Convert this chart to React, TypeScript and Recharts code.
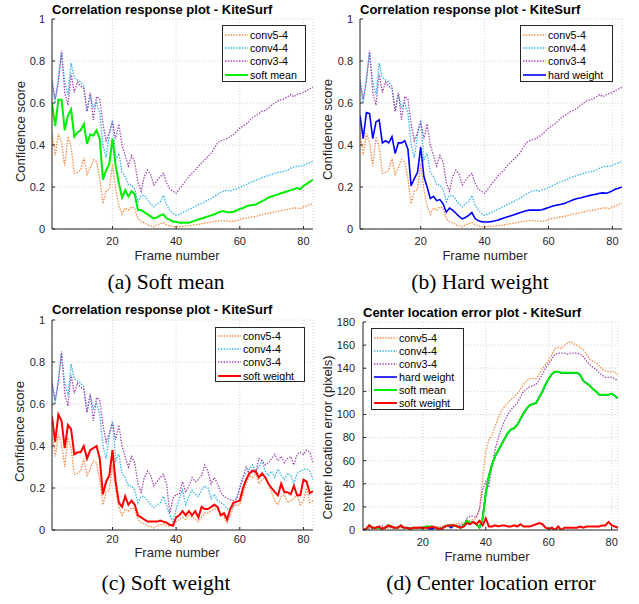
import { LineChart, Line, XAxis, YAxis, CartesianGrid, Legend } from 'recharts';

// frame indices (x categories)
const frames = Array.from({ length: 83 }, (_, i) => i + 1);
const framesD = frames.slice(0, 82);

const xTicks = [20, 40, 60, 80];
const scoreTicks = [0, 0.2, 0.4, 0.6, 0.8, 1];
const errorTicks = [0, 20, 40, 60, 80, 100, 120, 140, 160, 180];

// (a)/(b) confidence scores
const conv54 = [0.46, 0.35, 0.455, 0.41, 0.30, 0.44, 0.39, 0.265, 0.27, 0.28, 0.34, 0.26, 0.29, 0.33, 0.32, 0.24, 0.12, 0.18, 0.19, 0.31, 0.19, 0.11, 0.07, 0.10, 0.09, 0.105, 0.10, 0.05, 0.035, 0.03, 0.02, 0.015, 0.01, 0.02, 0.025, 0.03, 0.02, 0.015, 0.012, 0.01, 0.012, 0.013, 0.014, 0.015, 0.017, 0.02, 0.022, 0.025, 0.028, 0.03, 0.033, 0.036, 0.038, 0.04, 0.04, 0.038, 0.036, 0.037, 0.04, 0.045, 0.05, 0.052, 0.055, 0.058, 0.06, 0.064, 0.068, 0.072, 0.075, 0.078, 0.082, 0.085, 0.088, 0.09, 0.093, 0.097, 0.1, 0.1, 0.097, 0.105, 0.11, 0.117, 0.122];
const conv44 = [0.69, 0.60, 0.72, 0.84, 0.70, 0.64, 0.79, 0.72, 0.71, 0.70, 0.68, 0.56, 0.64, 0.58, 0.60, 0.55, 0.40, 0.34, 0.45, 0.52, 0.33, 0.36, 0.27, 0.25, 0.21, 0.21, 0.19, 0.13, 0.16, 0.16, 0.14, 0.12, 0.105, 0.12, 0.13, 0.16, 0.115, 0.09, 0.075, 0.065, 0.07, 0.078, 0.085, 0.093, 0.10, 0.108, 0.115, 0.122, 0.13, 0.138, 0.145, 0.155, 0.165, 0.175, 0.18, 0.185, 0.18, 0.187, 0.19, 0.198, 0.205, 0.212, 0.22, 0.225, 0.232, 0.238, 0.245, 0.25, 0.255, 0.26, 0.265, 0.27, 0.272, 0.275, 0.28, 0.29, 0.295, 0.30, 0.298, 0.303, 0.31, 0.316, 0.322];
const conv34 = [0.71, 0.62, 0.70, 0.85, 0.65, 0.59, 0.74, 0.65, 0.70, 0.68, 0.67, 0.56, 0.65, 0.52, 0.63, 0.62, 0.50, 0.42, 0.46, 0.51, 0.43, 0.50, 0.40, 0.35, 0.30, 0.35, 0.32, 0.22, 0.18, 0.25, 0.28, 0.26, 0.21, 0.23, 0.25, 0.265, 0.22, 0.19, 0.18, 0.17, 0.19, 0.21, 0.23, 0.25, 0.265, 0.28, 0.30, 0.315, 0.33, 0.345, 0.36, 0.385, 0.41, 0.42, 0.425, 0.43, 0.44, 0.45, 0.465, 0.48, 0.49, 0.50, 0.515, 0.53, 0.54, 0.55, 0.56, 0.565, 0.575, 0.59, 0.60, 0.61, 0.615, 0.62, 0.63, 0.64, 0.63, 0.64, 0.645, 0.65, 0.66, 0.668, 0.675];
const softMean = [0.60, 0.49, 0.615, 0.615, 0.47, 0.54, 0.57, 0.44, 0.46, 0.47, 0.50, 0.405, 0.45, 0.445, 0.47, 0.43, 0.235, 0.28, 0.31, 0.43, 0.30, 0.22, 0.15, 0.185, 0.155, 0.18, 0.165, 0.09, 0.09, 0.08, 0.07, 0.06, 0.05, 0.055, 0.065, 0.07, 0.05, 0.045, 0.035, 0.035, 0.03, 0.03, 0.03, 0.03, 0.035, 0.04, 0.045, 0.05, 0.055, 0.06, 0.065, 0.07, 0.077, 0.083, 0.085, 0.08, 0.08, 0.082, 0.088, 0.095, 0.10, 0.108, 0.112, 0.114, 0.116, 0.125, 0.133, 0.14, 0.15, 0.155, 0.16, 0.165, 0.17, 0.175, 0.18, 0.185, 0.19, 0.195, 0.19, 0.205, 0.215, 0.225, 0.235];
const hardWeight = [0.54, 0.43, 0.555, 0.55, 0.43, 0.51, 0.52, 0.41, 0.42, 0.41, 0.44, 0.36, 0.41, 0.41, 0.42, 0.38, 0.205, 0.24, 0.27, 0.39, 0.25, 0.20, 0.145, 0.155, 0.135, 0.14, 0.12, 0.08, 0.10, 0.09, 0.075, 0.06, 0.048, 0.055, 0.065, 0.078, 0.05, 0.04, 0.035, 0.033, 0.033, 0.035, 0.038, 0.042, 0.047, 0.052, 0.057, 0.062, 0.067, 0.072, 0.077, 0.082, 0.087, 0.09, 0.09, 0.09, 0.09, 0.092, 0.097, 0.102, 0.107, 0.112, 0.115, 0.118, 0.122, 0.128, 0.134, 0.14, 0.145, 0.148, 0.152, 0.156, 0.16, 0.163, 0.166, 0.17, 0.172, 0.17, 0.175, 0.182, 0.19, 0.194, 0.20];

// (c) confidence scores
const conv54C = [0.46, 0.35, 0.455, 0.41, 0.30, 0.44, 0.39, 0.265, 0.27, 0.28, 0.34, 0.26, 0.29, 0.33, 0.32, 0.24, 0.12, 0.18, 0.19, 0.31, 0.19, 0.11, 0.07, 0.10, 0.09, 0.105, 0.10, 0.05, 0.035, 0.03, 0.02, 0.015, 0.01, 0.02, 0.025, 0.03, 0.02, 0.02, 0.025, 0.04, 0.05, 0.06, 0.05, 0.07, 0.06, 0.05, 0.04, 0.06, 0.08, 0.08, 0.09, 0.10, 0.10, 0.08, 0.06, 0.035, 0.07, 0.11, 0.12, 0.12, 0.17, 0.22, 0.26, 0.25, 0.27, 0.22, 0.24, 0.25, 0.22, 0.18, 0.14, 0.12, 0.16, 0.17, 0.13, 0.14, 0.15, 0.17, 0.12, 0.14, 0.20, 0.13, 0.14];
const conv44C = [0.69, 0.60, 0.72, 0.84, 0.70, 0.64, 0.79, 0.72, 0.71, 0.70, 0.68, 0.56, 0.64, 0.58, 0.60, 0.55, 0.40, 0.34, 0.45, 0.52, 0.33, 0.36, 0.27, 0.25, 0.21, 0.21, 0.19, 0.13, 0.16, 0.16, 0.14, 0.12, 0.105, 0.12, 0.13, 0.16, 0.115, 0.07, 0.04, 0.10, 0.15, 0.19, 0.12, 0.16, 0.19, 0.17, 0.16, 0.19, 0.21, 0.20, 0.15, 0.17, 0.14, 0.13, 0.12, 0.10, 0.10, 0.11, 0.15, 0.20, 0.25, 0.27, 0.29, 0.31, 0.28, 0.30, 0.33, 0.28, 0.26, 0.28, 0.25, 0.29, 0.26, 0.24, 0.27, 0.26, 0.22, 0.27, 0.28, 0.29, 0.29, 0.28, 0.24];
const conv34C = [0.71, 0.62, 0.70, 0.85, 0.65, 0.59, 0.74, 0.65, 0.70, 0.68, 0.67, 0.56, 0.65, 0.52, 0.63, 0.62, 0.50, 0.42, 0.46, 0.51, 0.43, 0.50, 0.40, 0.35, 0.30, 0.35, 0.32, 0.22, 0.18, 0.25, 0.28, 0.26, 0.21, 0.23, 0.25, 0.265, 0.22, 0.08, 0.15, 0.17, 0.17, 0.23, 0.18, 0.21, 0.25, 0.23, 0.24, 0.26, 0.31, 0.28, 0.22, 0.25, 0.22, 0.18, 0.16, 0.15, 0.145, 0.14, 0.15, 0.20, 0.25, 0.30, 0.27, 0.29, 0.27, 0.34, 0.33, 0.31, 0.32, 0.34, 0.36, 0.33, 0.35, 0.32, 0.34, 0.35, 0.31, 0.36, 0.37, 0.36, 0.38, 0.37, 0.32];
const softWeight = [0.54, 0.42, 0.55, 0.52, 0.39, 0.50, 0.48, 0.36, 0.37, 0.37, 0.40, 0.34, 0.38, 0.39, 0.40, 0.34, 0.17, 0.23, 0.26, 0.38, 0.23, 0.13, 0.11, 0.16, 0.12, 0.14, 0.12, 0.07, 0.06, 0.05, 0.04, 0.04, 0.04, 0.04, 0.045, 0.04, 0.035, 0.025, 0.02, 0.06, 0.07, 0.09, 0.07, 0.09, 0.07, 0.09, 0.06, 0.11, 0.10, 0.10, 0.11, 0.12, 0.11, 0.07, 0.08, 0.05, 0.10, 0.13, 0.135, 0.14, 0.20, 0.24, 0.27, 0.28, 0.28, 0.25, 0.27, 0.25, 0.22, 0.20, 0.18, 0.165, 0.22, 0.18, 0.18, 0.17, 0.21, 0.165, 0.165, 0.24, 0.23, 0.175, 0.185];

// (d) centre location error, pixels
const errConv54 = [0, 1, 2, 1, 1, 2, 2, 1, 2, 2, 1, 2, 2, 2, 2, 2, 2, 2, 3, 2, 3, 3, 3, 3, 3, 3, 4, 4, 5, 5, 5, 6, 6, 7, 8, 9, 10, 18, 45, 68, 78, 82, 90, 97, 103, 107, 110, 113, 115, 118, 122, 126, 129, 131, 131, 131, 135, 140, 143, 147, 152, 157, 158, 157, 160, 162, 163, 161, 160, 158, 156, 152, 148, 146, 145, 142, 139, 138, 137, 137, 137, 134];
const errConv44 = [0, 1, 4, 2, 2, 2, 1, 2, 4, 3, 2, 2, 4, 2, 2, 1, 2, 2, 2, 2, 3, 3, 3, 2, 1, 1, 3, 4, 4, 4, 3, 2, 4, 8, 6, 7, 5, 2, 10, 32, 47, 57, 64, 69, 74, 79, 84, 87, 88, 91, 96, 101, 105, 108, 109, 110, 115, 120, 126, 131, 135, 137, 137, 136, 136, 136, 136, 136, 136, 134, 129, 127, 125, 122, 120, 117, 117, 117, 117, 118, 116, 114];
const errConv34 = [0, 1, 1, 1, 2, 3, 4, 2, 2, 2, 2, 2, 2, 2, 2, 2, 2, 2, 2, 2, 2, 2, 2, 2, 2, 2, 3, 3, 3, 4, 4, 4, 5, 10, 12, 12, 11, 18, 35, 42, 38, 55, 70, 80, 88, 95, 100, 104, 107, 110, 115, 120, 122, 124, 125, 126, 130, 135, 140, 144, 148, 152, 153, 153, 153, 152, 153, 153, 153, 152, 150, 146, 143, 141, 139, 136, 134, 132, 132, 132, 131, 129];
const errHardWeight = [0, 1, 4, 2, 2, 2, 1, 2, 4, 3, 2, 2, 4, 2, 2, 1, 2, 2, 2, 2, 3, 1, 1, 2, 1, 1, 3, 4, 2, 4, 3, 2, 4, 8, 6, 7, 5, 2, 10, 32, 47, 57, 64, 69, 74, 79, 84, 87, 88, 91, 96, 101, 105, 108, 109, 110, 115, 120, 126, 131, 135, 137, 137, 136, 136, 136, 136, 136, 136, 134, 129, 127, 125, 122, 120, 117, 117, 117, 117, 118, 116, 114];
const errSoftMean = [0, 1, 4, 2, 2, 2, 1, 2, 4, 3, 2, 2, 4, 2, 2, 1, 2, 2, 2, 2, 3, 3, 3, 2, 1, 1, 3, 4, 4, 4, 3, 2, 4, 8, 6, 7, 5, 2, 10, 32, 47, 57, 64, 69, 74, 79, 84, 87, 88, 91, 96, 101, 105, 108, 109, 110, 115, 120, 126, 131, 135, 137, 137, 136, 136, 136, 136, 136, 136, 134, 129, 127, 125, 122, 120, 117, 117, 117, 117, 118, 116, 114];
const errSoftWeight = [0, 1, 4, 2, 2, 3, 1, 2, 4, 3, 2, 2, 4, 2, 2, 1, 2, 2, 2, 2, 2, 2, 3, 2, 1, 1, 3, 4, 4, 4, 3, 2, 3, 6, 5, 7, 5, 8, 4, 10, 3, 3, 4, 3, 4, 4, 3, 3, 4, 3, 5, 3, 3, 3, 4, 5, 6, 5, 2, 1, 2, 0, 3, 0, 2, 2, 2, 2, 2, 3, 2, 3, 3, 3, 3, 3, 4, 4, 7, 4, 3, 2];

const LOOK: Record<string, { name: string; color: string; width: number; dash?: string }> = {
  conv5: { name: 'conv5-4', color: '#F7883A', width: 1.3, dash: '1.4 1.4' },
  conv4: { name: 'conv4-4', color: '#2BB2EE', width: 1.3, dash: '1.4 1.4' },
  conv3: { name: 'conv3-4', color: '#A046B2', width: 1.3, dash: '1.4 1.4' },
  hard: { name: 'hard weight', color: '#0000FF', width: 1.6 },
  softMean: { name: 'soft mean', color: '#00EE00', width: 2 },
  softWeight: { name: 'soft weight', color: '#FF0000', width: 2 },
};

const FONT = '"Liberation Sans", Arial, sans-serif';
const INK = '#262626';
const tickStyle = { fill: INK, fontSize: 11, fontFamily: FONT };

type Box = { l: number; t: number; r: number; b: number };
type PanelDef = {
  x: number; y: number; w: number; h: number; plot: Box;
  frames: number[]; xDomain: [number, number]; xTickMargin: number;
  yDomain: [number, number]; yTicks: number[]; yTickMargin: number;
  series: { key: string; values: number[] }[];
  legend: { l: number; t: number; w: number; h: number; padTop: number; row: number };
};

function Panel({ p }: { p: PanelDef }) {
  const data = p.frames.map((f, i) => {
    const row: Record<string, number> = { frame: f };
    p.series.forEach((s) => (row[s.key] = s.values[i]));
    return row;
  });
  const lg = p.legend;
  const renderLegend = () => (
    <div style={{ width: lg.w, height: lg.h, boxSizing: 'border-box', border: '1px solid #262626', background: '#fff', paddingTop: lg.padTop, fontFamily: FONT, fontSize: 10.7, color: '#000' }}>
      {p.series.map((s) => {
        const st = LOOK[s.key];
        return (
          <div key={s.key} style={{ height: lg.row, display: 'flex', alignItems: 'center' }}>
            <svg width={26} height={6} style={{ marginLeft: 1, flex: 'none' }}>
              <line x1={1} y1={3} x2={24} y2={3} stroke={st.color} strokeWidth={st.width} strokeDasharray={st.dash} />
            </svg>
            <span style={{ whiteSpace: 'nowrap' }}>{st.name}</span>
          </div>
        );
      })}
    </div>
  );
  return (
    <div style={{ position: 'absolute', left: p.x, top: p.y }}>
      <LineChart
        width={p.w}
        height={p.h}
        data={data}
        margin={{ top: p.plot.t - p.y, right: p.x + p.w - p.plot.r, left: 0, bottom: 0 }}
      >
        <CartesianGrid stroke="#d4d4d4" strokeDasharray="1 2" />
        <XAxis
          type="number" dataKey="frame" domain={p.xDomain} ticks={xTicks} allowDataOverflow
          height={p.y + p.h - p.plot.b} stroke={INK} tickSize={-3} tickMargin={p.xTickMargin} tick={tickStyle}
        />
        <XAxis
          xAxisId="top" orientation="top" type="number" dataKey="frame" domain={p.xDomain} ticks={xTicks}
          allowDataOverflow height={0} stroke={INK} tickSize={-3} tick={false}
        />
        <YAxis
          type="number" domain={p.yDomain} ticks={p.yTicks} allowDataOverflow
          width={p.plot.l - p.x} stroke={INK} tickSize={-3} tickMargin={p.yTickMargin} tick={tickStyle}
        />
        <YAxis
          yAxisId="right" orientation="right" type="number" domain={p.yDomain} ticks={p.yTicks}
          allowDataOverflow width={0} stroke={INK} tickSize={-3} tick={false}
        />
        {p.series.map((s) => {
          const st = LOOK[s.key];
          return (
            <Line
              key={s.key}
              type="linear"
              dataKey={s.key}
              name={st.name}
              stroke={st.color}
              strokeWidth={st.width}
              strokeDasharray={st.dash}
              dot={false}
              activeDot={false}
              isAnimationActive={false}
            />
          );
        })}
        <Legend
          layout="vertical"
          align="center"
          verticalAlign="middle"
          content={renderLegend}
          wrapperStyle={{ left: lg.l - p.x, top: lg.t - p.y, width: lg.w, height: lg.h }}
        />
      </LineChart>
    </div>
  );
}

const panels: PanelDef[] = [
  {
    x: 0, y: 0, w: 320, h: 262, plot: { l: 52, t: 19, r: 313, b: 229 },
    frames, xDomain: [1, 83], xTickMargin: 11, yDomain: [0, 1], yTicks: scoreTicks, yTickMargin: 10,
    series: [
      { key: 'conv5', values: conv54 }, { key: 'conv4', values: conv44 }, { key: 'conv3', values: conv34 },
      { key: 'softMean', values: softMean },
    ],
    legend: { l: 222, t: 25, w: 84, h: 57, padTop: 2, row: 13.4 },
  },
  {
    x: 320, y: 0, w: 319, h: 262, plot: { l: 360, t: 19, r: 622, b: 229 },
    frames, xDomain: [1, 83], xTickMargin: 11, yDomain: [0, 1], yTicks: scoreTicks, yTickMargin: 10,
    series: [
      { key: 'conv5', values: conv54 }, { key: 'conv4', values: conv44 }, { key: 'conv3', values: conv34 },
      { key: 'hard', values: hardWeight },
    ],
    legend: { l: 520, t: 25, w: 93, h: 57, padTop: 2, row: 13.4 },
  },
  {
    x: 0, y: 300, w: 320, h: 262, plot: { l: 52, t: 320, r: 313, b: 530 },
    frames, xDomain: [1, 83], xTickMargin: 8, yDomain: [0, 1], yTicks: scoreTicks, yTickMargin: 10,
    series: [
      { key: 'conv5', values: conv54C }, { key: 'conv4', values: conv44C }, { key: 'conv3', values: conv34C },
      { key: 'softWeight', values: softWeight },
    ],
    legend: { l: 215, t: 327, w: 90, h: 55, padTop: 1, row: 13.4 },
  },
  {
    x: 320, y: 300, w: 319, h: 262, plot: { l: 363, t: 322, r: 618, b: 530 },
    frames: framesD, xDomain: [1, 82], xTickMargin: 11, yDomain: [0, 180], yTicks: errorTicks, yTickMargin: 11,
    series: [
      { key: 'conv5', values: errConv54 }, { key: 'conv4', values: errConv44 }, { key: 'conv3', values: errConv34 },
      { key: 'hard', values: errHardWeight }, { key: 'softMean', values: errSoftMean },
      { key: 'softWeight', values: errSoftWeight },
    ],
    legend: { l: 371, t: 328, w: 93, h: 82, padTop: 2.5, row: 13 },
  },
];

const titles = [
  { text: 'Correlation response plot - KiteSurf', x: 52, y: 3 },
  { text: 'Correlation response plot - KiteSurf', x: 360, y: 3 },
  { text: 'Correlation response plot - KiteSurf', x: 52, y: 303 },
  { text: 'Center location error plot - KiteSurf', x: 363, y: 306 },
];
const yLabels = [
  { text: 'Confidence score', cx: 20, cy: 131 },
  { text: 'Confidence score', cx: 327, cy: 129 },
  { text: 'Confidence score', cx: 19, cy: 431 },
  { text: 'Center location error (pixels)', cx: 327, cy: 437 },
];
// top of the 10px line box; baseline sits ~9.5px below
const xLabels = [
  { text: 'Frame number', cx: 177, y: 251 },
  { text: 'Frame number', cx: 485, y: 251 },
  { text: 'Frame number', cx: 177, y: 548 },
  { text: 'Frame number', cx: 487, y: 551.5 },
];
const captions = [
  { text: '(a) Soft mean', cx: 166, y: 272 },
  { text: '(b) Hard weight', cx: 480, y: 272 },
  { text: '(c) Soft weight', cx: 166, y: 573 },
  { text: '(d) Center location error', cx: 491, y: 573 },
];

export default function App() {
  return (
    <div style={{ position: 'absolute', left: 0, top: 0, width: 639, height: 604, background: '#fff', overflow: 'hidden' }}>
      {panels.map((p, i) => (
        <Panel key={i} p={p} />
      ))}
      {titles.map((t, i) => (
        <div key={'t' + i} style={{ position: 'absolute', left: t.x, top: t.y, fontFamily: FONT, fontWeight: 'bold', fontSize: 13, lineHeight: '13px', color: '#000', whiteSpace: 'nowrap' }}>
          {t.text}
        </div>
      ))}
      {yLabels.map((t, i) => (
        <div key={'y' + i} style={{ position: 'absolute', left: t.cx - 100, top: t.cy - 6.5, width: 200, textAlign: 'center', fontFamily: FONT, fontSize: 13, lineHeight: '13px', color: INK, transform: 'rotate(-90deg)', whiteSpace: 'nowrap' }}>
          {t.text}
        </div>
      ))}
      {xLabels.map((t, i) => (
        <div key={'x' + i} style={{ position: 'absolute', left: t.cx - 100, top: t.y, width: 200, textAlign: 'center', fontFamily: FONT, fontSize: 13, lineHeight: '10px', color: INK, whiteSpace: 'nowrap' }}>
          {t.text}
        </div>
      ))}
      {captions.map((t, i) => (
        <div key={'c' + i} style={{ position: 'absolute', left: t.cx - 150, top: t.y, width: 300, textAlign: 'center', fontFamily: '"Liberation Serif", "Times New Roman", serif', fontSize: 21.5, lineHeight: '21.5px', color: '#000', whiteSpace: 'nowrap' }}>
          {t.text}
        </div>
      ))}
    </div>
  );
}
